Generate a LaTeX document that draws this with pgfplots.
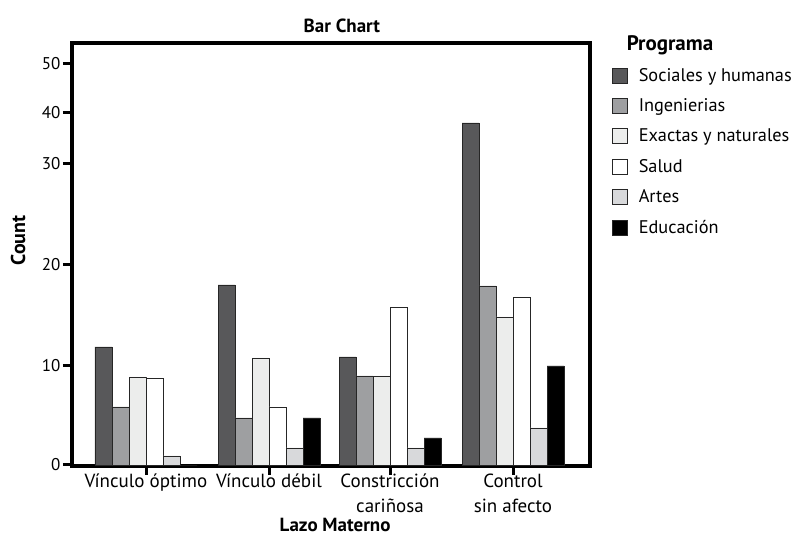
\documentclass[border=0pt]{standalone}
\usepackage{fontspec}
\setmainfont{PT Sans}
\usepackage{pgfplots}
\usepackage{pgfplotstable}
\pgfplotsset{compat=1.18}

\definecolor{soc}{RGB}{88,88,90}
\definecolor{ing}{RGB}{158,159,161}
\definecolor{exa}{RGB}{236,237,236}
\definecolor{art}{RGB}{216,217,219}

% bar heights (axis units), group centres in px
\pgfplotstableread{
x   soc  ing  exa  sal  art  edu
146 11.8 5.8  8.8  8.7  0.9  0
269 18.0 4.7  10.7 5.8  1.7  4.7
390 10.8 8.9  8.9  15.8 1.7  2.7
513 34.2 17.9 14.8 16.8 3.7  9.9
}\datatab

\begin{document}
\begin{tikzpicture}
\begin{axis}[
    at={(72pt,72pt)}, anchor=south west,
    x=1pt, y=10pt,
    xmin=72, xmax=590, ymin=-0.1, ymax=42.2,
    ybar=0pt, bar width=17,
    axis line style={line width=4pt, line cap=rect},
    xtick pos=bottom, ytick pos=left,
    tick align=outside, major tick length=9pt,
    tick style={line width=3pt, black},
    xtick={146,269,390,513},
    xticklabels={V\'inculo \'optimo, V\'inculo d\'ebil, Constricci\'on\\cari\~nosa, Control\\sin afecto},
    xticklabel style={align=center, font=\fontsize{19}{25}\selectfont, yshift=5pt},
    ytick={0,9.9,20,30.1,35.2,40.1},
    yticklabels={0,10,20,30,40,50},
    yticklabel style={font=\fontsize{17}{18}\selectfont, xshift=1pt},
    /pgf/number format/assume math mode=true,
    title={\textbf{Bar Chart}},
    title style={font=\fontsize{19}{20}\selectfont, at={(axis description cs:0.521,1.0)}, anchor=south, yshift=1pt},
    xlabel={\textbf{Lazo Materno}},
    xlabel style={font=\fontsize{19}{21}\selectfont, inner sep=0pt, at={(axis description cs:0.508,-0.155)}, anchor=base},
    ylabel={\textbf{Count}},
    ylabel style={font=\fontsize{20}{22}\selectfont, at={(axis description cs:-0.104,0.533)}, anchor=center},
    legend style={at={(1.042,1.02)}, anchor=north west, draw=none, fill=none,
        inner sep=0pt, font=\fontsize{18.3}{20}\selectfont, row sep=14pt,
        nodes={inner sep=1pt},
        /tikz/every odd column/.append style={column sep=10pt}},
    legend cell align=left,
    legend image code/.code={\draw[#1] (0pt,-7.5pt) rectangle (15pt,7.5pt);},
    every axis plot/.append style={draw=black!85, line width=0.8pt},
]
\addlegendimage{empty legend}
\addlegendentry{\hspace{-12pt}\fontsize{21}{22}\selectfont\textbf{Programa}}
\addplot[fill=soc] table[x=x, y=soc] {\datatab};
\addlegendentry{Sociales y humanas}
\addplot[fill=ing] table[x=x, y=ing] {\datatab};
\addlegendentry{Ingenierias}
\addplot[fill=exa] table[x=x, y=exa] {\datatab};
\addlegendentry{Exactas y naturales}
\addplot[fill=white] table[x=x, y=sal] {\datatab};
\addlegendentry{Salud}
\addplot[fill=art] table[x=x, y=art] {\datatab};
\addlegendentry{Artes}
\addplot[fill=black] table[x=x, y=edu] {\datatab};
\addlegendentry{Educaci\'on}
\end{axis}
\pgfresetboundingbox
\path[use as bounding box] (0,0) rectangle (793pt,538pt);
\end{tikzpicture}
\end{document}
